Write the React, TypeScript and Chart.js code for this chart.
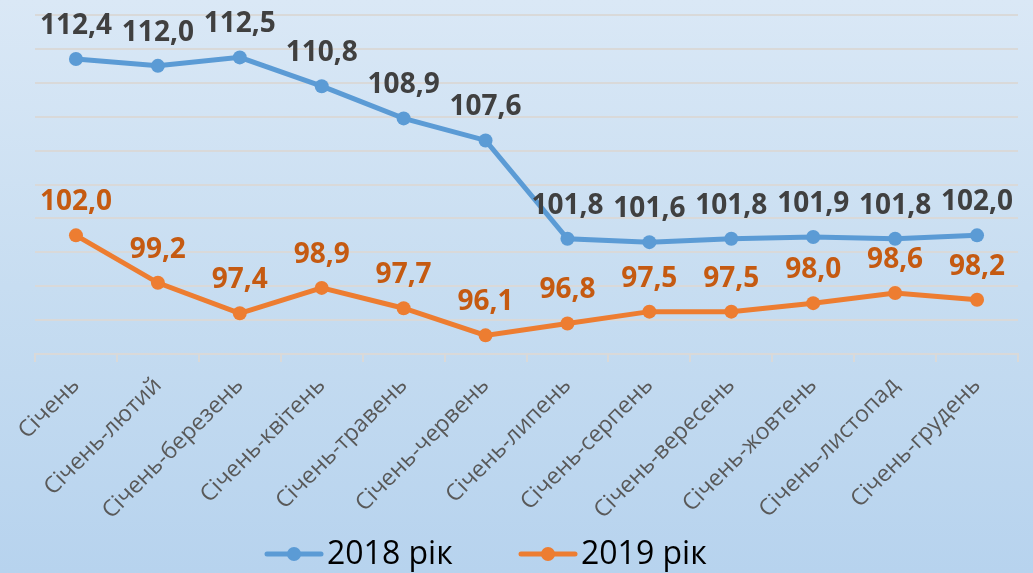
import React, { useEffect, useRef } from "react";
import { Chart, registerables } from "chart.js";

Chart.register(...registerables);

const categories = [
  "Січень",
  "Січень-лютий",
  "Січень-березень",
  "Січень-квітень",
  "Січень-травень",
  "Січень-червень",
  "Січень-липень",
  "Січень-серпень",
  "Січень-вересень",
  "Січень-жовтень",
  "Січень-листопад",
  "Січень-грудень",
];
const series2018 = [112.4, 112.0, 112.5, 110.8, 108.9, 107.6, 101.8, 101.6, 101.8, 101.9, 101.8, 102.0];
const series2019 = [102.0, 99.2, 97.4, 98.9, 97.7, 96.1, 96.8, 97.5, 97.5, 98.0, 98.6, 98.2];
const seriesNames = ["2018 рік", "2019 рік"];
const lineColors = ["#5B9BD5", "#ED7D31"];
const labelColors = ["#404040", "#C55A11"];

const FONT = "'Open Sans', 'DejaVu Sans', sans-serif";

const dataLabelPlugin = {
  id: "dataLabels",
  afterDatasetsDraw(chart: any) {
    const ctx = chart.ctx;
    ctx.save();
    ctx.font = `bold 28px ${FONT}`;
    ctx.textAlign = "center";
    ctx.textBaseline = "alphabetic";
    chart.data.datasets.forEach((ds: any, i: number) => {
      const meta = chart.getDatasetMeta(i);
      ctx.fillStyle = labelColors[i];
      meta.data.forEach((pt: any, j: number) => {
        const v = ds.data[j];
        const txt = v.toFixed(1).replace(".", ",");
        ctx.fillText(txt, pt.x, pt.y - 25);
      });
    });
    ctx.restore();
  },
};

const legendPlugin = {
  id: "customLegend",
  afterDraw(chart: any) {
    const ctx = chart.ctx;
    ctx.save();
    const y = 554;
    const items = [
      { x: 267, name: seriesNames[0], color: lineColors[0] },
      { x: 521, name: seriesNames[1], color: lineColors[1] },
    ];
    items.forEach((it) => {
      ctx.strokeStyle = it.color;
      ctx.lineWidth = 5;
      ctx.lineCap = "round";
      ctx.beginPath();
      ctx.moveTo(it.x, y);
      ctx.lineTo(it.x + 54, y);
      ctx.stroke();
      ctx.fillStyle = it.color;
      ctx.beginPath();
      ctx.arc(it.x + 27, y, 7, 0, Math.PI * 2);
      ctx.fill();
      ctx.fillStyle = "#000000";
      ctx.font = `32px ${FONT}`;
      ctx.textAlign = "left";
      ctx.textBaseline = "middle";
      ctx.fillText(it.name, it.x + 60, y + 1);
    });
    ctx.restore();
  },
};

export default function App() {
  const ref = useRef<HTMLCanvasElement>(null);

  useEffect(() => {
    if (!ref.current) return;
    const chart = new Chart(ref.current, {
      type: "line",
      data: {
        labels: categories,
        datasets: [series2018, series2019].map((d, i) => ({
          label: seriesNames[i],
          data: d,
          borderColor: lineColors[i],
          backgroundColor: lineColors[i],
          borderWidth: 5,
          pointRadius: 7,
          pointHoverRadius: 7,
          pointBorderWidth: 0,
          tension: 0,
        })),
      },
      options: {
        animation: false,
        responsive: false,
        maintainAspectRatio: false,
        layout: { padding: { left: 0, right: 15, top: 15, bottom: 0 } },
        plugins: {
          legend: { display: false },
          tooltip: { enabled: false },
        },
        scales: {
          x: {
            offset: true,
            grid: {
              display: true,
              offset: true,
              drawOnChartArea: false,
              drawTicks: true,
              tickLength: 8,
              color: "#D9D9D9",
              lineWidth: 2,
            },
            border: { display: true, color: "#D9D9D9", width: 2 },
            ticks: {
              minRotation: 45,
              maxRotation: 45,
              autoSkip: false,
              padding: 10,
              color: "#595959",
              font: { family: FONT, size: 23 },
            },
            afterFit: (s: any) => {
              s.height = 219;
            },
          },
          y: {
            min: 95,
            max: 115,
            ticks: { display: false, stepSize: 2 },
            grid: { color: "#D9D9D9", lineWidth: 2, drawTicks: false },
            border: { display: false },
            afterFit: (s: any) => {
              s.width = 35;
            },
          },
        },
      },
      plugins: [dataLabelPlugin, legendPlugin],
    });
    return () => chart.destroy();
  }, []);

  return (
    <div
      style={{
        position: "fixed",
        left: 0,
        top: 0,
        width: 1033,
        height: 573,
        background: "linear-gradient(180deg, #DAE8F6 0%, #C7DDF1 50%, #B7D3EE 100%)",
      }}
    >
      <canvas ref={ref} width={1033} height={573} style={{ display: "block" }} />
    </div>
  );
}
